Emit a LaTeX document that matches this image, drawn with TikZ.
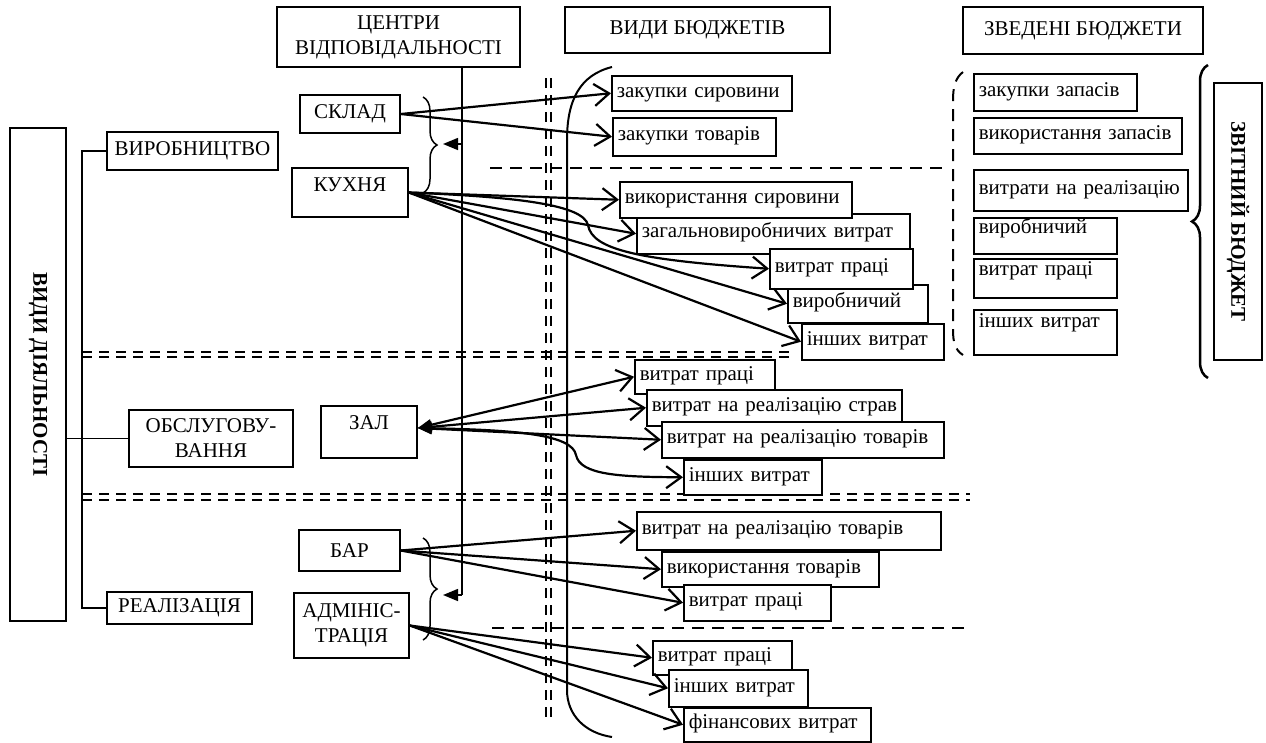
\documentclass[tikz,border=0pt]{standalone}
\usepackage{fontspec}
\setmainfont{Liberation Serif}
\usetikzlibrary{arrows.meta,decorations.pathreplacing}

\begin{document}
\begin{tikzpicture}[x=1pt,y=-1pt,
	every node/.style={font=\fontsize{21}{25}\selectfont},
	box/.style={draw,fill=white,line width=1.5pt,align=center,inner sep=2pt},
	bbox/.style={draw,fill=white,line width=1.5pt,anchor=north west,align=left,inner xsep=5pt,inner ysep=0pt,text height=12pt,text depth=4pt},
	arr/.style={line width=2.2pt,-{Straight Barb[length=15pt,width=22pt]}},
	arrz/.style={line width=2.2pt,{Triangle[length=14pt,width=11pt]}-{Straight Barb[length=15pt,width=22pt]}},
	ddash/.style={line width=2.5pt,dash pattern=on 10pt off 7pt},
	sdash/.style={line width=2pt,dash pattern=on 12pt off 8pt},
	brc/.style={line width=1.5pt,decorate,decoration={brace,amplitude=14pt}}]
	\useasboundingbox (0,0) rectangle (1266,742);
	% dashed separators
	\draw[ddash] (546,78)--(546,723);
	\draw[ddash] (551,78)--(551,723);
	\draw[ddash] (82,352)--(790,352);
	\draw[ddash] (82,357)--(790,357);
	\draw[ddash] (82,494)--(970,494);
	\draw[ddash] (82,500)--(970,500);
	\draw[sdash] (490,168)--(945,168);
	\draw[sdash] (492,628)--(968,628);
	% brackets
	\draw[line width=2pt] (612,67) .. controls (580,75) and (567,100) .. (567,140) -- (567,690) .. controls (567,715) and (585,733) .. (612,737);
	\draw[sdash] (963,72) .. controls (955,78) and (953,88) .. (953,100) -- (953,330) .. controls (953,342) and (955,350) .. (963,355);
	\draw[brc] (423,97)--(423,193);
	\draw[brc] (423,538)--(423,640);
	\draw[line width=2.5pt,decorate,decoration={brace,amplitude=16pt}] (1208,378)--(1208,65);
	% left column
	\node[box,rotate=-90,minimum width=493pt,minimum height=56pt,font=\fontsize{21}{25}\selectfont\bfseries] (vydy) at (38,374.5) {ВИДИ ДІЯЛЬНОСТІ};
	\node[box,minimum width=171pt,minimum height=38pt] (vyrobn) at (192.5,151) {ВИРОБНИЦТВО};
	\node[box,minimum width=164pt,minimum height=57pt] (obsl) at (211,438.5) {ОБСЛУГОВУ-\\ВАННЯ};
	\node[box,minimum width=145pt,minimum height=32pt] (realiz) at (179.5,608) {РЕАЛІЗАЦІЯ};
	\coordinate (t1) at (82,151);
	\coordinate (t2) at (82,608);
	\draw[line width=1.5pt] (vyrobn.west)--(t1)--(t2)--(realiz.west);
	\draw[line width=1.5pt] (obsl.west -| vydy.north)--(obsl.west);
	% centres of responsibility
	\node[box,minimum width=243pt,minimum height=60pt] (centry) at (398.5,37) {ЦЕНТРИ\\ВІДПОВІДАЛЬНОСТІ};
	\node[box,minimum width=100pt,minimum height=38pt] (sklad) at (350,114) {СКЛАД};
	\node[box,minimum width=116pt,minimum height=49pt,text depth=15pt] (kuhnia) at (350,192.5) {КУХНЯ};
	\node[box,minimum width=96pt,minimum height=52pt,text depth=18pt] (zal) at (369,432) {ЗАЛ};
	\node[box,minimum width=101pt,minimum height=41pt] (bar) at (349.5,550.5) {БАР};
	\node[box,minimum width=115pt,minimum height=65pt] (admin) at (351.5,625.5) {АДМІНІС-\\ТРАЦІЯ};
	\coordinate (cv) at (462,595);
	\coordinate (tip1) at (443,144);
	\coordinate (tip2) at (443,595);
	\draw[line width=1.5pt] (centry.south -| cv)--(cv);
	\draw[line width=1.5pt,-{Triangle[length=15pt,width=12pt]}] (tip1 -| cv)--(tip1);
	\draw[line width=1.5pt,-{Triangle[length=15pt,width=12pt]}] (cv)--(tip2);
	% headers
	\node[box,minimum width=265pt,minimum height=46pt] (vbud) at (697.5,30) {ВИДИ БЮДЖЕТІВ};
	\node[box,minimum width=240pt,minimum height=47pt] (zbud) at (1083,30.5) {ЗВЕДЕНІ БЮДЖЕТИ};
	\node[box,rotate=-90,minimum width=277pt,minimum height=48pt,font=\fontsize{21}{25}\selectfont\bfseries] (zvit) at (1238,221.5) {ЗВІТНИЙ БЮДЖЕТ};
	% budgets: sklad, kuhnia
	\node[bbox,text width=170pt,minimum height=35pt] (zs) at (611,75) {закупки сировини};
	\node[bbox,text width=153pt,minimum height=38pt] (zt) at (612,117) {закупки товарів};
	\node[bbox,text width=263pt,minimum height=40pt] (zv) at (636,213) {\mbox{загальновиробничих витрат}};
	\node[bbox,text width=130pt,minimum height=38pt] (vyr) at (787,284) {виробничий};
	\node[bbox,text width=132pt,minimum height=36pt] (iv1) at (801,323) {інших витрат};
	\node[bbox,text width=133pt,minimum height=40pt] (vp1) at (769,248) {витрат праці};
	\node[bbox,text width=222pt,minimum height=36pt] (vs) at (619,181) {\mbox{використання сировини}};
	% budgets: zal
	\node[bbox,text width=130pt,minimum height=34pt] (vp2) at (634,359) {витрат праці};
	\node[bbox,text width=245pt,minimum height=36pt] (vrs) at (646,389) {\mbox{витрат на реалізацію страв}};
	\node[bbox,text width=272pt,minimum height=36pt] (vrt1) at (661,421) {\mbox{витрат на реалізацію товарів}};
	\node[bbox,text width=128pt,minimum height=35pt] (iv2) at (683,459) {інших витрат};
	% budgets: bar, admin
	\node[bbox,text width=294pt,minimum height=38pt] (vrt2) at (636,511) {\mbox{витрат на реалізацію товарів}};
	\node[bbox,text width=207pt,minimum height=35pt] (vt) at (661,551) {\mbox{використання товарів}};
	\node[bbox,text width=137pt,minimum height=36pt] (vp3) at (683,584) {витрат праці};
	\node[bbox,text width=129pt,minimum height=34pt] (vp4) at (652,640) {витрат праці};
	\node[bbox,text width=129pt,minimum height=37pt] (iv3) at (668,669) {інших витрат};
	\node[bbox,text width=177pt,minimum height=34pt] (fv) at (683,707) {\mbox{фінансових витрат}};
	% summary budgets
	\node[bbox,text width=153pt,minimum height=37pt] (zz) at (973,73) {закупки запасів};
	\node[bbox,text width=198pt,minimum height=36pt] (vz) at (973,117) {\mbox{використання запасів}};
	\node[bbox,text width=204pt,minimum height=41pt] (vnr) at (973,169) {\mbox{витрати на реалізацію}};
	\node[bbox,text width=133pt,minimum height=36pt,text depth=16pt] (vyr2) at (973,217) {виробничий};
	\node[bbox,text width=133pt,minimum height=39pt,text depth=18pt] (vp5) at (973,258) {витрат праці};
	\node[bbox,text width=133pt,minimum height=45pt,text depth=22pt] (iv4) at (973,309) {інших витрат};
	% arrows
	\draw[arr] (sklad.east)--(zs.west);
	\draw[arr] (sklad.east)--(zt.west);
	\draw[arr] (kuhnia.east)--(vs.west);
	\draw[arr] (kuhnia.east)--(zv.west);
	\draw[arr] (kuhnia.east) .. controls (520,197) and (583,205) .. (588,225) .. controls (592,250) and (640,260) .. (vp1.west);
	\draw[arr] (kuhnia.east)--(vyr.west);
	\draw[arr] (kuhnia.east)--(iv1.west);
	\draw[arrz] ([yshift=4pt]zal.east)--(vp2.west);
	\draw[arrz] ([yshift=4pt]zal.east)--(vrs.west);
	\draw[arrz] ([yshift=4pt]zal.east)--(vrt1.west);
	\draw[arrz] ([yshift=4pt]zal.east) .. controls (520,430) and (572,435) .. (576,455) .. controls (580,475) and (620,477) .. (iv2.west);
	\draw[arr] (bar.east)--(vrt2.west);
	\draw[arr] (bar.east)--(vt.west);
	\draw[arr] (bar.east)--(vp3.west);
	\draw[arr] (admin.east)--(vp4.west);
	\draw[arr] (admin.east)--(iv3.west);
	\draw[arr] (admin.east)--(fv.west);
\end{tikzpicture}
\end{document}
